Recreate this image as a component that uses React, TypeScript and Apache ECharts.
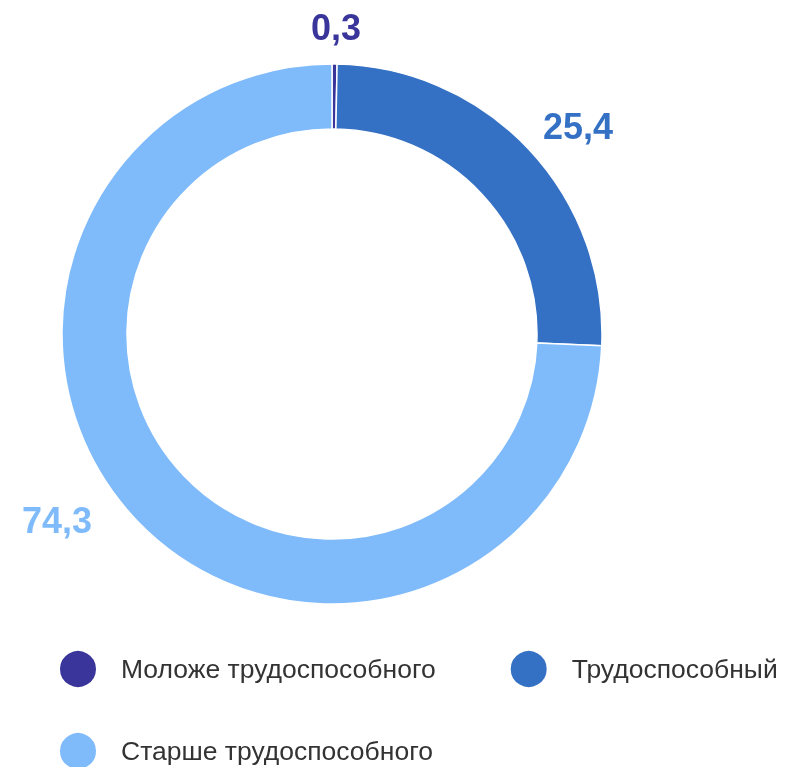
import React, { useEffect, useRef } from "react";
import * as echarts from "echarts";

const categories = ["Моложе трудоспособного", "Трудоспособный", "Старше трудоспособного"];
const values = [0.3, 25.4, 74.3];
const colors = ["#39359a", "#3470c4", "#7fbbfb"];
// label anchor positions (style only)
const labelPos = [
  [336, 27],
  [578, 126],
  [57, 520],
];

export default function App() {
  const ref = useRef<HTMLDivElement>(null);
  useEffect(() => {
    if (!ref.current) return;
    const chart = echarts.init(ref.current, undefined, { renderer: "svg" });
    const font = "'Liberation Sans', Arial, sans-serif";
    const legendCommon = {
      icon: "circle",
      itemWidth: 38,
      itemHeight: 38,
      itemGap: 73,
      padding: 0,
      orient: "horizontal",
      left: 58,
      selectedMode: false,
      textStyle: {
        fontFamily: font,
        fontSize: 26.5,
        color: "#333333",
        padding: [0, 0, 0, 19],
      },
    };
    chart.setOption({
      animation: false,
      color: colors,
      legend: [
        { ...legendCommon, top: 649, data: [categories[0], categories[1]] },
        { ...legendCommon, top: 731, data: [categories[2]] },
      ],
      series: [
        {
          type: "pie",
          center: [332, 334],
          radius: [205, 270],
          startAngle: 90,
          clockwise: true,
          avoidLabelOverlap: false,
          itemStyle: { borderColor: "#ffffff", borderWidth: 1.5 },
          emphasis: { disabled: true },
          label: {
            show: true,
            position: "outside",
            fontFamily: font,
            fontSize: 36,
            fontWeight: "bold",
            color: "inherit",
            formatter: (p: any) => String(p.value).replace(".", ","),
          },
          labelLine: { show: false },
          labelLayout: (params: any) => {
            const p = labelPos[params.dataIndex];
            return { x: p[0], y: p[1], align: "center", verticalAlign: "middle" };
          },
          data: categories.map((name, i) => ({
            name,
            value: values[i],
            label: { color: colors[i] },
          })),
        },
      ],
    });
    return () => chart.dispose();
  }, []);
  return (
    <div
      ref={ref}
      style={{ position: "fixed", left: 0, top: 0, width: 787, height: 767 }}
    />
  );
}
